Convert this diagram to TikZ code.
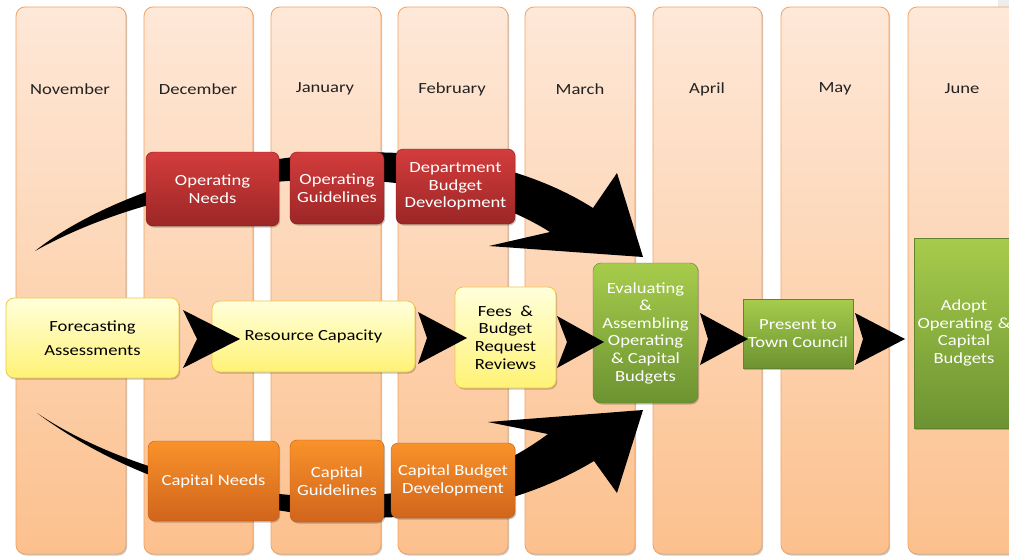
\documentclass[tikz,border=0pt]{standalone}
\usepackage{fontspec}
\setmainfont{Carlito}[FakeStretch=1.2]
\usetikzlibrary{shadows}

\definecolor{colTop}{HTML}{FEE8D8}
\definecolor{colMid}{HTML}{FDD5B4}
\definecolor{colBot}{HTML}{FCC08D}
\definecolor{colEdge}{HTML}{F4A262}
\definecolor{redTop}{HTML}{D43C3C}
\definecolor{redBot}{HTML}{9C2626}
\definecolor{orgTop}{HTML}{F9922A}
\definecolor{orgBot}{HTML}{D0651C}
\definecolor{grnTop}{HTML}{A7CC4C}
\definecolor{grnBot}{HTML}{6C9331}
\definecolor{ylwTop}{HTML}{FFFFDA}
\definecolor{ylwBot}{HTML}{FFF276}
\definecolor{ylwEdge}{HTML}{F2C646}
\definecolor{monthText}{HTML}{222222}

% filled notched arrow between two stages
\newcommand\mychev[5]{%
  \fill[black] (#1,#4) -- (#3,{(#4+#5)/2}) -- (#1,#5) -- (#2,{(#4+#5)/2}) -- cycle;}

\tikzset{
  softshadow/.style={drop shadow={shadow xshift=1.2pt, shadow yshift=-1.5pt, opacity=0.22, fill=black}},
  month/.style={rounded corners=9pt, draw=colEdge, line width=0.8pt,
    top color=colTop, bottom color=colBot, middle color=colMid, softshadow},
  monthlabel/.style={font=\fontsize{15.5}{18}\selectfont, text=monthText},
  stage/.style={align=center, inner sep=1pt, font=\fontsize{15.5}{17.6}\selectfont, softshadow},
  opstage/.style={stage, rounded corners=7pt, top color=redTop, bottom color=redBot,
    draw=redBot!80!black, line width=0.4pt, text=white},
  capstage/.style={stage, rounded corners=7pt, top color=orgTop, bottom color=orgBot,
    draw=orgBot!90!black, line width=0.4pt, text=white},
  mainstage/.style={stage, rounded corners=8pt, top color=ylwTop, bottom color=ylwBot,
    draw=ylwEdge, line width=0.8pt, text=black},
  finalstage/.style={stage, top color=grnTop, bottom color=grnBot,
    draw=grnBot!90!black, line width=0.4pt, text=white},
}

\begin{document}
\begin{tikzpicture}[x=1pt, y=-1pt]
\useasboundingbox (0,0) rectangle (1009,557);
\clip (0,0) rectangle (1009,557);
\fill[white] (0,0) rectangle (1009,557);
\fill[black!7] (998,0) rectangle (1009,7);

% month columns
\node[month, minimum width=110, minimum height=547] (cnov) at (71,280.5) {};
\node[month, minimum width=109, minimum height=547] (cdec) at (198.5,280.5) {};
\node[month, minimum width=110, minimum height=547] (cjan) at (326,280.5) {};
\node[month, minimum width=110, minimum height=547] (cfeb) at (453,280.5) {};
\node[month, minimum width=110, minimum height=547] (cmar) at (580,280.5) {};
\node[month, minimum width=109, minimum height=547] (capr) at (707.5,280.5) {};
\node[month, minimum width=108, minimum height=547] (cmay) at (835,280.5) {};
\node[month, minimum width=122, minimum height=547] (cjun) at (969,280.5) {};

\node[monthlabel] (lnov) at (70,89) {November};
\node[monthlabel] (ldec) at (198,89) {December};
\node[monthlabel] (ljan) at (325,89) {January};
\node[monthlabel] (lfeb) at (452,89) {February};
\node[monthlabel] (lmar) at (580,89) {March};
\node[monthlabel] (lapr) at (707,89) {April};
\node[monthlabel] (lmay) at (835,89) {May};
\node[monthlabel] (ljun) at (962,89) {June};

% sweeping arrow of the operating track
\fill[black] (35,251) .. controls (150,160) and (430,105) .. (593,208)
  -- (617,173) -- (643,257) -- (489,246) -- (550,232)
  .. controls (420,150) and (180,170) .. (35,251) -- cycle;

% sweeping arrow of the capital track
\fill[black] (37,413) .. controls (150,490) and (400,545) .. (548,434)
  -- (488,422) -- (643,410) -- (617,493) -- (594,461)
  .. controls (430,560) and (180,520) .. (37,413) -- cycle;

% operating track
\node[opstage, minimum width=133, minimum height=74] (opneeds) at (212.5,189) {Operating\\Needs};
\node[opstage, minimum width=94, minimum height=72] (opguide) at (337,188) {Operating\\Guidelines};
\node[opstage, minimum width=119, minimum height=75] (dept) at (455.5,186.5) {Department\\Budget\\Development};

% capital track
\node[capstage, minimum width=131, minimum height=80] (capneeds) at (213.5,481) {Capital Needs};
\node[capstage, minimum width=94, minimum height=82] (capguide) at (337,481) {Capital\\Guidelines};
\node[capstage, minimum width=124, minimum height=75] (capdev) at (453,480.5) {Capital Budget\\Development};

% main track
\node[mainstage, minimum width=173, minimum height=80] (fore) at (92.5,338) {Forecasting\\[6pt]Assessments};
\node[mainstage, minimum width=203, minimum height=71] (res) at (313.5,336.5) {Resource Capacity};
\node[mainstage, minimum width=101, minimum height=101] (fees) at (505.5,337.5) {Fees\ \ \&\\Budget\\Request\\Reviews};
\node[finalstage, rounded corners=8pt, minimum width=105, minimum height=140] (eval) at (645.5,333)
  {Evaluating\\\&\\Assembling\\Operating\\\& Capital\\Budgets};
\node[finalstage, minimum width=110, minimum height=69] (present) at (798,333.5) {Present to\\Town Council};
\node[finalstage, minimum width=100, minimum height=190, text width=96] (adopt) at (964,333)
  {Adopt\\Operating \&\\Capital\\Budgets};

% chevrons between the stages of the main track
\mychev{183}{197}{240}{310}{368}
\mychev{418}{427}{467}{312}{364}
\mychev{557}{567}{604}{316}{368}
\mychev{700}{708}{748}{313}{365}
\mychev{855}{863}{905}{313}{365}
\end{tikzpicture}
\end{document}
